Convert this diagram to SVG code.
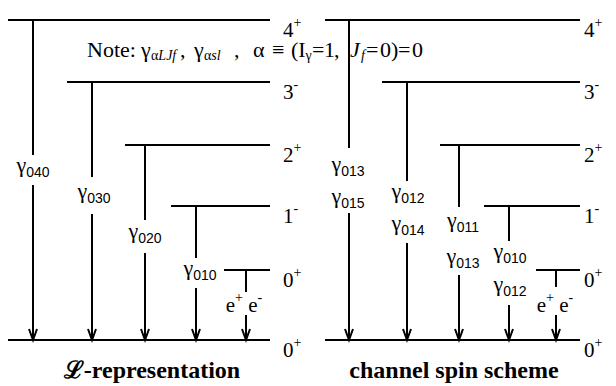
<svg xmlns="http://www.w3.org/2000/svg" width="616" height="386" viewBox="0 0 616 386">
<defs>
<style>
.lv{stroke:#000;stroke-width:2;fill:none}
.tr{stroke:#000;stroke-width:2;fill:none}
.ar{stroke:#000;stroke-width:2;fill:none;marker-end:url(#arr)}
text{font-family:"Liberation Serif","Times New Roman",serif;fill:#000}
.lab{font-size:21px}
.g{font-size:22px;text-anchor:middle}
.sd{font-family:"Liberation Sans",Arial,sans-serif;font-size:14px}
.sup{font-size:14px}
.ttl{font-size:24px;font-weight:bold;text-anchor:middle}
.ee{font-size:21px;text-anchor:middle}
.note{font-size:22px}
.ns{font-size:14px}
</style>
<marker id="arr" markerUnits="userSpaceOnUse" markerWidth="16" markerHeight="14" viewBox="-13 -7 16 14" refX="0" refY="0" orient="auto">
<path d="M-11,-4 L0,0 L-11,4" stroke="#000" stroke-width="2" fill="none"/>
</marker>
</defs>
<rect width="616" height="386" fill="#fff"/>

<!-- Left panel: L-representation -->
<g id="left-levels">
<g id="L-4p"><line class="lv" x1="8" y1="20" x2="270" y2="20"/><text class="lab" x="283" y="37">4<tspan class="sup" dy="-10">+</tspan></text></g>
<g id="L-3m"><line class="lv" x1="67" y1="82" x2="270" y2="82"/><text class="lab" x="283" y="99">3<tspan class="sup" dy="-10">-</tspan></text></g>
<g id="L-2p"><line class="lv" x1="125" y1="145" x2="270" y2="145"/><text class="lab" x="283" y="162">2<tspan class="sup" dy="-10">+</tspan></text></g>
<g id="L-1m"><line class="lv" x1="171" y1="206" x2="270" y2="206"/><text class="lab" x="283" y="223">1<tspan class="sup" dy="-10">-</tspan></text></g>
<g id="L-0p"><line class="lv" x1="224" y1="270" x2="270" y2="270"/><text class="lab" x="283" y="287">0<tspan class="sup" dy="-10">+</tspan></text></g>
<g id="L-gs"><line class="lv" x1="8" y1="340" x2="270" y2="340"/><text class="lab" x="283" y="357">0<tspan class="sup" dy="-10">+</tspan></text></g>
</g>

<!-- Right panel: channel spin scheme -->
<g id="right-levels">
<g id="R-4p"><line class="lv" x1="325" y1="20" x2="580" y2="20"/><text class="lab" x="584" y="37">4<tspan class="sup" dy="-10">+</tspan></text></g>
<g id="R-3m"><line class="lv" x1="382" y1="82" x2="580" y2="82"/><text class="lab" x="584" y="99">3<tspan class="sup" dy="-10">-</tspan></text></g>
<g id="R-2p"><line class="lv" x1="440" y1="145" x2="580" y2="145"/><text class="lab" x="584" y="162">2<tspan class="sup" dy="-10">+</tspan></text></g>
<g id="R-1m"><line class="lv" x1="484" y1="206" x2="580" y2="206"/><text class="lab" x="584" y="223">1<tspan class="sup" dy="-10">-</tspan></text></g>
<g id="R-0p"><line class="lv" x1="536" y1="270" x2="580" y2="270"/><text class="lab" x="584" y="287">0<tspan class="sup" dy="-10">+</tspan></text></g>
<g id="R-gs"><line class="lv" x1="325" y1="340" x2="580" y2="340"/><text class="lab" x="584" y="357">0<tspan class="sup" dy="-10">+</tspan></text></g>
</g>

<g id="connectors">
<!-- left -->
<line class="tr" x1="33" y1="20" x2="33" y2="155"/><line class="ar" x1="33" y1="185" x2="33" y2="340"/>
<line class="tr" x1="92" y1="82" x2="92" y2="177"/><line class="ar" x1="92" y1="214" x2="92" y2="340"/>
<line class="tr" x1="145" y1="145" x2="145" y2="220"/><line class="ar" x1="145" y1="253" x2="145" y2="340"/>
<line class="tr" x1="196" y1="206" x2="196" y2="258"/><line class="ar" x1="196" y1="288" x2="196" y2="340"/>
<line class="tr" x1="246" y1="270" x2="246" y2="292"/><line class="ar" x1="246" y1="315" x2="246" y2="340"/>
<!-- right -->
<line class="tr" x1="349" y1="20" x2="349" y2="148"/><line class="ar" x1="349" y1="213" x2="349" y2="340"/>
<line class="tr" x1="407" y1="82" x2="407" y2="181"/><line class="ar" x1="407" y1="243" x2="407" y2="340"/>
<line class="tr" x1="459" y1="145" x2="459" y2="207"/><line class="ar" x1="459" y1="275" x2="459" y2="340"/>
<line class="tr" x1="509" y1="206" x2="509" y2="241"/><line class="ar" x1="509" y1="305" x2="509" y2="340"/>
<line class="tr" x1="556" y1="270" x2="556" y2="287"/><line class="ar" x1="556" y1="315" x2="556" y2="340"/>
</g>

<g id="labels">
<text class="g" x="33" y="172">γ<tspan class="sd" dy="5">040</tspan></text>
<text class="g" x="94" y="198">γ<tspan class="sd" dy="5">030</tspan></text>
<text class="g" x="145" y="238">γ<tspan class="sd" dy="5">020</tspan></text>
<text class="g" x="200" y="275">γ<tspan class="sd" dy="5">010</tspan></text>
<text class="ee" x="244" y="312">e<tspan class="sup" dy="-10">+</tspan><tspan dy="10"> e</tspan><tspan class="sup" dy="-10">-</tspan></text>

<text class="g" x="348" y="171">γ<tspan class="sd" dy="5">013</tspan></text>
<text class="g" x="348" y="203">γ<tspan class="sd" dy="5">015</tspan></text>
<text class="g" x="408" y="198">γ<tspan class="sd" dy="5">012</tspan></text>
<text class="g" x="408" y="230">γ<tspan class="sd" dy="5">014</tspan></text>
<text class="g" x="463" y="227">γ<tspan class="sd" dy="5">011</tspan></text>
<text class="g" x="463" y="263">γ<tspan class="sd" dy="5">013</tspan></text>
<text class="g" x="510" y="258">γ<tspan class="sd" dy="5">010</tspan></text>
<text class="g" x="510" y="291">γ<tspan class="sd" dy="5">012</tspan></text>
<text class="ee" x="555" y="312">e<tspan class="sup" dy="-10">+</tspan><tspan dy="10"> e</tspan><tspan class="sup" dy="-10">-</tspan></text>
</g>

<g id="note">
<text class="note" y="57"><tspan x="87">Note:</tspan><tspan x="141">γ</tspan><tspan class="ns" x="151" dy="3">α<tspan font-style="italic">LJf</tspan></tspan><tspan x="180" dy="-3">,</tspan><tspan x="194">γ</tspan><tspan class="ns" x="204" dy="3">α<tspan font-style="italic">sl</tspan></tspan><tspan x="234" dy="-3">,</tspan><tspan x="253">α</tspan><tspan x="272">≡</tspan><tspan x="291">(I</tspan><tspan class="ns" x="305.5" dy="3">γ</tspan><tspan x="312" dy="-3">=</tspan><tspan x="324">1</tspan><tspan x="334">,</tspan><tspan x="350" font-style="italic">J</tspan><tspan class="ns" x="361" dy="3" font-style="italic">f</tspan><tspan x="366" dy="-3">=</tspan><tspan x="380">0</tspan><tspan x="391">)</tspan><tspan x="398">=</tspan><tspan x="412">0</tspan></text>
</g>

<g id="titles">
<text class="ttl" x="152" y="378">ℒ-representation</text>
<text class="ttl" x="454" y="378">channel spin scheme</text>
</g>
</svg>
